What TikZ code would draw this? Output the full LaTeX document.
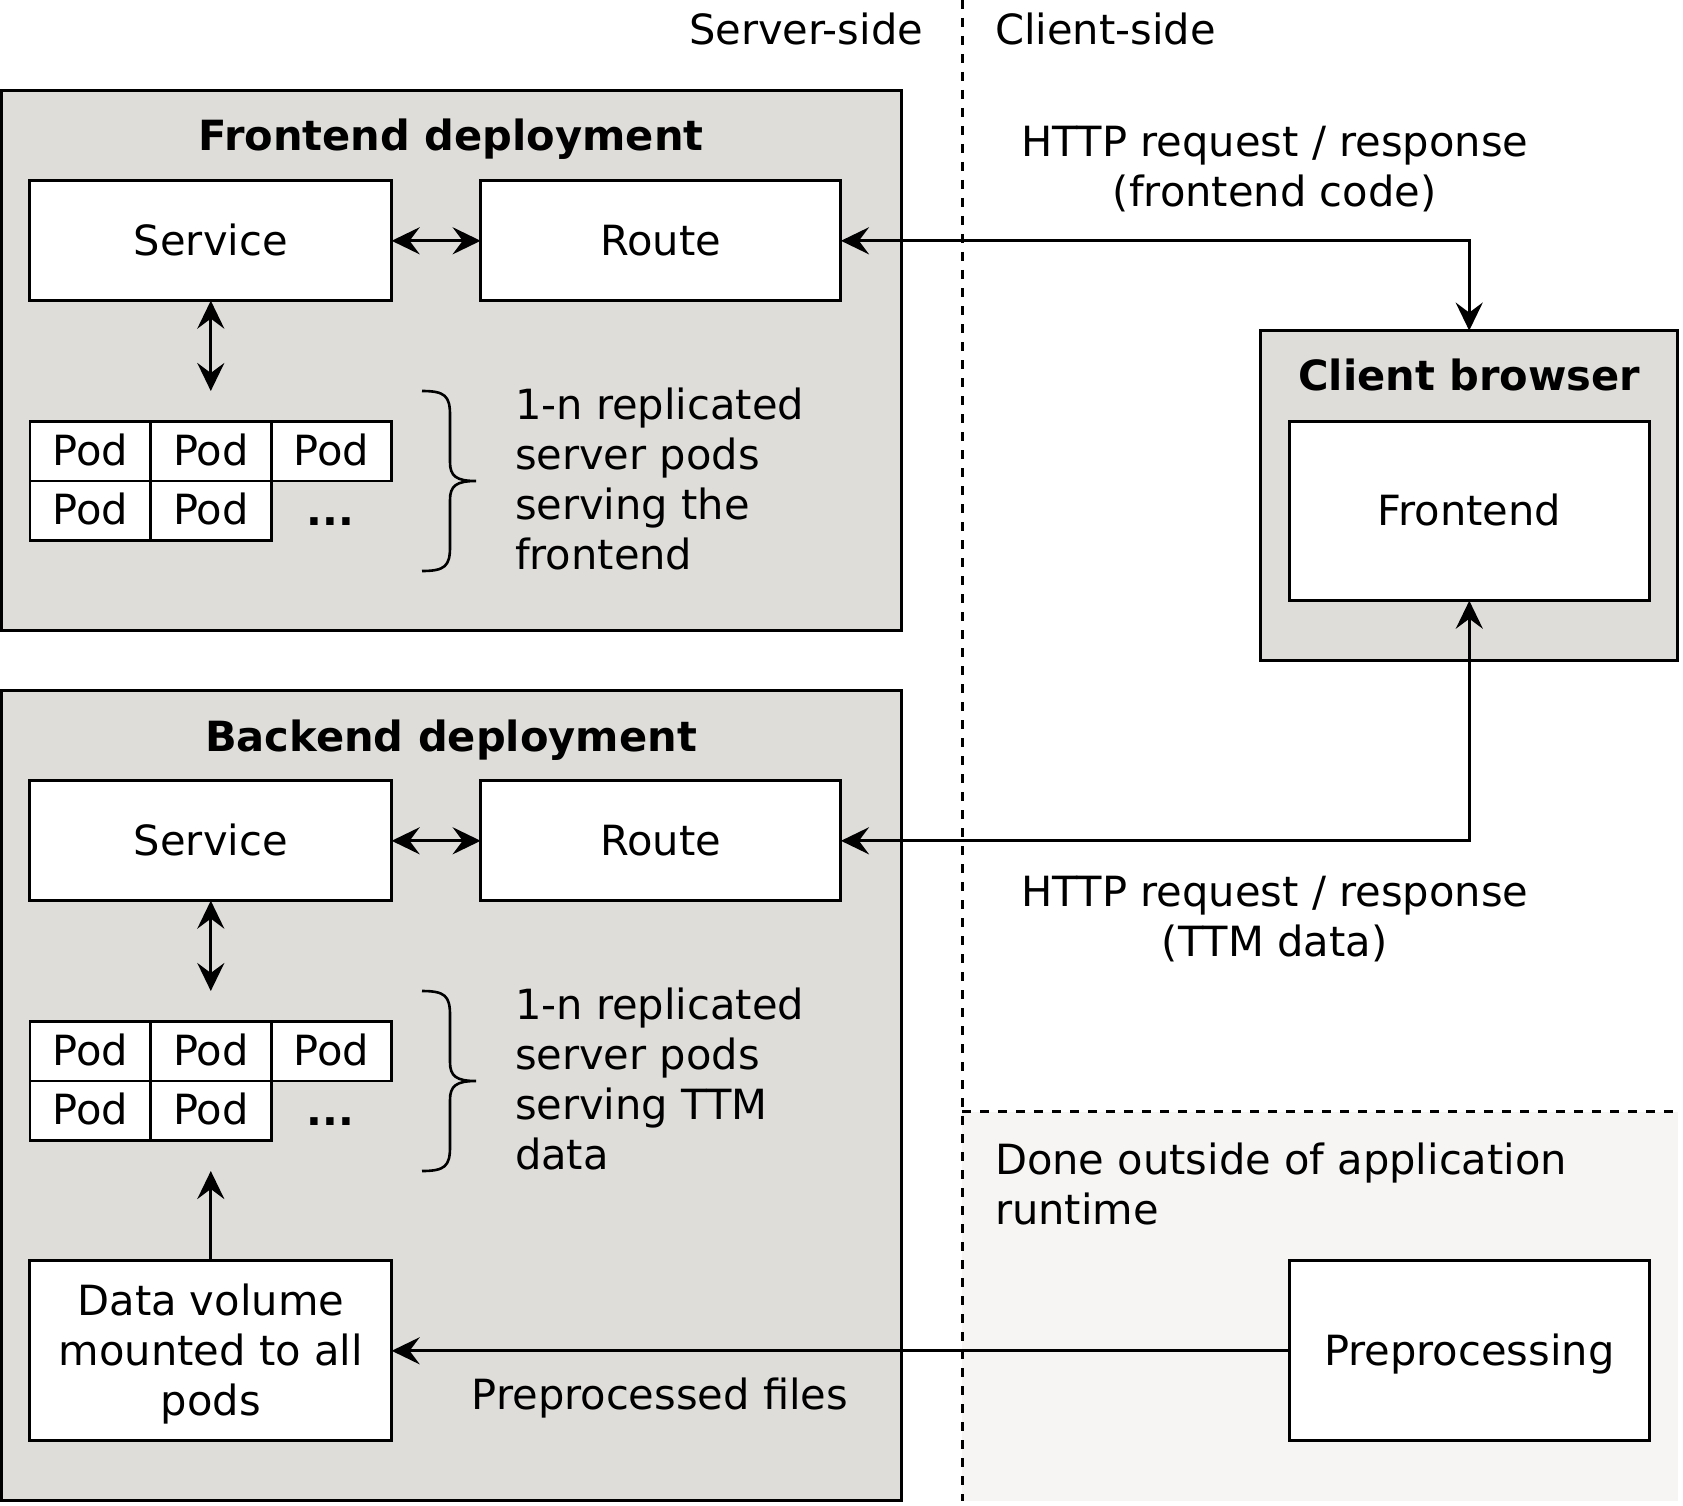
\documentclass[tikz,border=0pt]{standalone}
\usepackage{fontspec}
\setmainfont{DejaVu Sans}
\usetikzlibrary{arrows.meta}
\definecolor{depgray}{RGB}{222,221,218}
\definecolor{lightbg}{RGB}{246,245,244}
\begin{document}
\begin{tikzpicture}[x=1pt,y=-1pt,
  every node/.style={inner sep=0pt, outer sep=0pt, font=\fontsize{41.6}{50}\selectfont},
  >={Stealth[length=28pt,width=27pt,inset=10pt]},
  deploy/.style={draw, line width=3pt, fill=depgray, rectangle},
  wbox/.style={draw, line width=3pt, fill=white, rectangle, align=center},
  onel/.style={text height=31.6pt, text depth=3pt},
  podbox/.style={draw, line width=2.8pt, fill=white, rectangle, minimum width=120.6pt, minimum height=59.5pt, text height=31.6pt, text depth=3.5pt},
  title/.style={anchor=base, font=\fontsize{41.6}{50}\selectfont\bfseries},
  conn/.style={line width=3.2pt},
  brace/.style={line width=2.6pt},
  sep/.style={line width=3pt, dash pattern=on 9pt off 9pt}
]
\useasboundingbox (0,0) rectangle (1683,1506);

% background region (done outside of runtime)
\fill[lightbg] (962,1111.7) rectangle (1678,1501);
\draw[sep] (962,0) -- (962,1501);
\draw[sep] (962,1111.7) -- (1678,1111.7);

% side labels
\node[anchor=base east] (lserver) at (923,45) {Server-side};
\node[anchor=base west] (lclient) at (995,45) {Client-side};

% Frontend deployment
\node[deploy, minimum width=900pt, minimum height=539pt] (fedep) at (451,360.5) {};
\node[title] (fetitle) at (451,151) {Frontend deployment};
\node[wbox, onel, minimum width=361.7pt, minimum height=119.7pt] (fsvc) at (210.8,240.8) {Service};
\node[wbox, onel, minimum width=360.3pt, minimum height=119.7pt] (froute) at (660.8,240.8) {Route};
\node[podbox] (fp1) at (90.3,451.3) {Pod};
\node[podbox] (fp2) at (210.9,451.3) {Pod};
\node[podbox] (fp3) at (331.5,451.3) {Pod};
\node[podbox] (fp4) at (90.3,510.8) {Pod};
\node[podbox] (fp5) at (210.9,510.8) {Pod};
\node[anchor=base] (fdots) at (330.5,525) {\textbf{...}};
\draw[brace] (422,391) .. controls (445,391) and (450,396) .. (450,415)
  -- (450,462) .. controls (450,476) and (456,481) .. (476,481)
  .. controls (456,481) and (450,486) .. (450,500)
  -- (450,547) .. controls (450,566) and (445,571) .. (422,571);
\node[anchor=west, align=left] (ftext) at (515,478.5) {1-n replicated\\server pods\\serving the\\frontend};
\coordinate (fpodtop) at (210.8,391);

% Backend deployment
\node[deploy, minimum width=900pt, minimum height=809.7pt] (bedep) at (451,1095.8) {};
\node[title] (betitle) at (451,751) {Backend deployment};
\node[wbox, onel, minimum width=361.7pt, minimum height=119.7pt] (bsvc) at (210.8,840.8) {Service};
\node[wbox, onel, minimum width=360.3pt, minimum height=119.7pt] (broute) at (660.8,840.8) {Route};
\node[podbox] (bp1) at (90.3,1051.3) {Pod};
\node[podbox] (bp2) at (210.9,1051.3) {Pod};
\node[podbox] (bp3) at (331.5,1051.3) {Pod};
\node[podbox] (bp4) at (90.3,1110.8) {Pod};
\node[podbox] (bp5) at (210.9,1110.8) {Pod};
\node[anchor=base] (bdots) at (330.5,1125) {\textbf{...}};
\draw[brace] (422,991) .. controls (445,991) and (450,996) .. (450,1015)
  -- (450,1062) .. controls (450,1076) and (456,1081) .. (476,1081)
  .. controls (456,1081) and (450,1086) .. (450,1100)
  -- (450,1147) .. controls (450,1166) and (445,1171) .. (422,1171);
\node[anchor=west, align=left] (btext) at (515,1078.5) {1-n replicated\\server pods\\serving TTM\\data};
\coordinate (bpodtop) at (210.8,991);
\coordinate (bpodbot) at (210.8,1171);
\node[wbox, minimum width=361.7pt, minimum height=180.3pt] (dv) at (210.8,1350.8) {};
\node[align=center] (dvtext) at (210.8,1354) {Data volume\\mounted to all\\pods};
\node[anchor=base] (lfiles) at (660,1409) {Preprocessed files};

% Client browser
\node[deploy, minimum width=416.9pt, minimum height=329.4pt] (client) at (1469.2,495.3) {};
\node[title] (cltitle) at (1469.2,390) {Client browser};
\node[wbox, onel, minimum width=360pt, minimum height=179pt] (fe) at (1469.3,511.2) {Frontend};

% HTTP labels
\node[align=center] (lhttp1) at (1274.6,169) {HTTP request / response\\(frontend code)};
\node[align=center] (lhttp2) at (1274.6,919) {HTTP request / response\\(TTM data)};

% outside runtime
\node[anchor=west, align=left] (lout) at (995,1184.2) {Done outside of application\\runtime};
\node[wbox, onel, minimum width=360pt, minimum height=179.7pt] (pre) at (1469.3,1350.8) {Preprocessing};

% connectors
\draw[conn,<->] (fsvc.east) -- (froute.west);
\draw[conn,<->] (fsvc.south) -- (fpodtop);
\draw[conn,<->] (froute.east) -| (client.north);
\draw[conn,<->] (bsvc.east) -- (broute.west);
\draw[conn,<->] (bsvc.south) -- (bpodtop);
\draw[conn,<->] (broute.east) -| (fe.south);
\draw[conn,->] (dv.north) -- (bpodbot);
\draw[conn,->] (pre.west) -- (dv.east);
\end{tikzpicture}
\end{document}
